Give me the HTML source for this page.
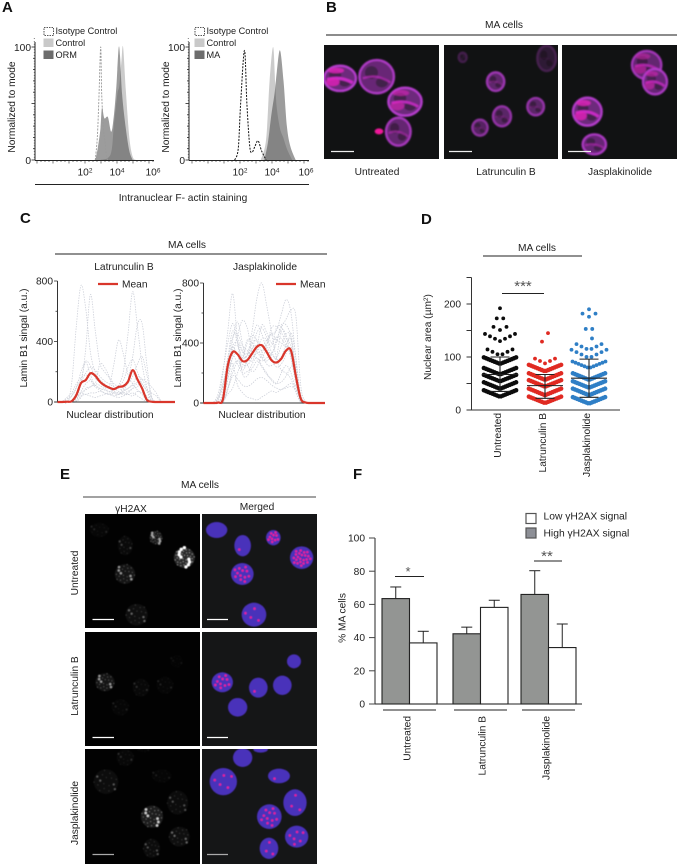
<!DOCTYPE html>
<html lang="en">
<head>
<meta charset="utf-8">
<title>Multi-panel figure: MA cells</title>
<style>
html,body{margin:0;padding:0;background:#fff;width:677px;height:864px;overflow:hidden}
svg{display:block}
text{font-family:"Liberation Sans",Arial,sans-serif;font-size:10.2px;fill:#222}
.pl{font-size:15px;font-weight:bold;fill:#111}
.m{text-anchor:middle}
.e{text-anchor:end}
.lg{font-size:9.2px}
.lf{font-size:10.3px}
</style>
</head>
<body>
<svg id="fig" xmlns="http://www.w3.org/2000/svg" width="677" height="864" viewBox="0 0 677 864">
<defs>
<filter id="soft" x="-5%" y="-5%" width="110%" height="110%"><feGaussianBlur stdDeviation="1.5"/></filter>
<filter id="soft2" x="-5%" y="-5%" width="110%" height="110%"><feGaussianBlur stdDeviation="2.6"/></filter>
</defs>

<text class="pl" x="2" y="12">A</text>
<text class="pl" x="326" y="12">B</text>
<text class="pl" x="20" y="223">C</text>
<text class="pl" x="421" y="224">D</text>
<text class="pl" x="60" y="479">E</text>
<text class="pl" x="353" y="479">F</text>

<!-- Panel A -->
<g id="panelA"></g>
<text transform="translate(15,107) rotate(-90)" class="m">Normalized to mode</text>
<text transform="translate(169,107) rotate(-90)" class="m">Normalized to mode</text>
<line x1="35" x2="309" y1="184.5" y2="184.5" stroke="#222" stroke-width="1"/>
<text x="183" y="201" class="m">Intranuclear F- actin staining</text>
<g>
<rect x="44" y="27.5" width="9.5" height="8" fill="#fff" stroke="#222" stroke-width=".8" stroke-dasharray="1.5 1"/>
<rect x="43.5" y="38.5" width="10" height="8.5" fill="#c9c9c9"/>
<rect x="43.5" y="50.5" width="10" height="8.5" fill="#6d6d6d"/>
<text class="lg" x="55.5" y="34">Isotype Control</text>
<text class="lg" x="55.5" y="46">Control</text>
<text class="lg" x="55.5" y="58">ORM</text>
</g>
<g>
<rect x="195" y="27.5" width="9.5" height="8" fill="#fff" stroke="#222" stroke-width=".8" stroke-dasharray="1.5 1"/>
<rect x="194.5" y="38.5" width="10" height="8.5" fill="#c9c9c9"/>
<rect x="194.5" y="50.5" width="10" height="8.5" fill="#6d6d6d"/>
<text class="lg" x="206.5" y="34">Isotype Control</text>
<text class="lg" x="206.5" y="46">Control</text>
<text class="lg" x="206.5" y="58">MA</text>
</g>

<!-- Panel B -->
<text x="504" y="28" class="m">MA cells</text>
<line x1="326" x2="677" y1="35" y2="35" stroke="#666" stroke-width="1.5"/>
<g id="panelB"></g>
<text x="377" y="175" class="m">Untreated</text>
<text x="506" y="175" class="m">Latrunculin B</text>
<text x="620" y="175" class="m">Jasplakinolide</text>

<!-- Panel C -->
<text x="187" y="248" class="m">MA cells</text>
<line x1="55" x2="327" y1="254" y2="254" stroke="#222" stroke-width="1"/>
<text x="124" y="270" class="m">Latrunculin B</text>
<text x="265" y="270" class="m">Jasplakinolide</text>
<text transform="translate(27,338) rotate(-90)" class="m">Lamin B1 singal (a.u.)</text>
<text transform="translate(181,338) rotate(-90)" class="m">Lamin B1 singal (a.u.)</text>
<text x="110" y="418" class="m">Nuclear distribution</text>
<text x="262" y="418" class="m">Nuclear distribution</text>
<g id="panelC"></g>
<g>
<line x1="98" x2="118" y1="284" y2="284" stroke="#d9362b" stroke-width="2.2"/>
<text x="122" y="287.5">Mean</text>
</g>
<g>
<line x1="276" x2="296" y1="284" y2="284" stroke="#d9362b" stroke-width="2.2"/>
<text x="300" y="287.5">Mean</text>
</g>

<!-- Panel D -->
<text x="537" y="251" class="m">MA cells</text>
<line x1="483" x2="582" y1="256" y2="256" stroke="#222" stroke-width="1"/>
<text transform="translate(431,337) rotate(-90)" class="m">Nuclear area (µm<tspan dy="-3" font-size="6.5">2</tspan><tspan dy="3">)</tspan></text>
<g id="panelD"></g>
<text x="523" y="291" class="m" style="font-size:15px;fill:#555">***</text>
<line x1="502" x2="544" y1="293.5" y2="293.5" stroke="#222" stroke-width="1"/>

<!-- Panel E -->
<text x="200" y="488" class="m">MA cells</text>
<line x1="83" x2="316" y1="497" y2="497" stroke="#444" stroke-width="1"/>
<text x="131" y="512" class="m">γH2AX</text>
<text x="257" y="510" class="m">Merged</text>
<g id="panelE"></g>
<text transform="translate(78,573) rotate(-90)" class="m">Untreated</text>
<text transform="translate(78,686) rotate(-90)" class="m">Latrunculin B</text>
<text transform="translate(78,813) rotate(-90)" class="m">Jasplakinolide</text>

<!-- Panel F -->
<g id="panelF"></g>
<text transform="translate(345.5,618) rotate(-90)" class="m">% MA cells</text>
<g>
<rect x="526" y="513.5" width="10" height="10" fill="#fff" stroke="#555" stroke-width="1.2"/>
<rect x="526" y="528" width="10" height="10" fill="#8d8f96" stroke="#555" stroke-width="1.2"/>
<text class="lf" x="543.5" y="519.5">Low γH2AX signal</text>
<text class="lf" x="543.5" y="536.5">High γH2AX signal</text>
</g>
<text x="408" y="576" class="m" style="font-size:13px;fill:#555">*</text>
<line x1="395" x2="424" y1="576.5" y2="576.5" stroke="#222" stroke-width="1"/>
<text x="547" y="561" class="m" style="font-size:15px;fill:#555">**</text>
<line x1="534" x2="562" y1="561" y2="561" stroke="#222" stroke-width="1"/>
</svg>

<script>
/* ---------- Panel A data (log10 intensity, % of mode) ---------- */
var aTicksLog = [2, 4, 6];
var aLeftIsoLog = [2.64, 2.77, 2.87, 2.98, 3.04, 3.15, 3.26, 3.34, 3.43];
var aLeftIsoVal = [0, 20, 55, 100, 60, 28, 15, 3, 0];
var aLeftCtrlLog = [2.96, 3.6, 3.81, 4.02, 4.15, 4.28, 4.38, 4.55, 4.77, 4.98, 5.19];
var aLeftCtrlVal = [0, 5, 32, 58, 66, 88, 100, 62, 20, 3, 0];
var aLeftOrmLog = [2.64, 2.79, 2.96, 3.06, 3.21, 3.43, 3.64, 3.81, 3.96, 4.02, 4.11, 4.19, 4.32, 4.55, 4.77, 4.98];
var aLeftOrmVal = [0, 10, 27, 46, 37, 38, 25, 40, 65, 80, 100, 92, 58, 28, 8, 0];
var aRightIsoLog = [1.67, 1.89, 2.04, 2.28, 2.43, 2.61, 2.76, 2.93, 3.13, 3.35, 3.63];
var aRightIsoVal = [0, 10, 50, 97, 50, 12, 7, 12, 17, 8, 0];
var aRightCtrlLog = [3.3, 3.63, 3.85, 4.07, 4.2, 4.3, 4.5, 4.7, 4.93, 5.26];
var aRightCtrlVal = [0, 18, 70, 100, 68, 46, 28, 20, 10, 0];
var aRightMaLog = [3.52, 3.74, 3.96, 4.17, 4.3, 4.5, 4.72, 4.93, 5.15, 5.48];
var aRightMaVal = [0, 15, 40, 60, 78, 97, 70, 30, 12, 0];

/* ---------- Panel C data (% position, a.u.) ---------- */
var cPositions = [0,4,8,12,16,20,24,28,32,36,40,44,48,52,56,60,64,68,72,76,80,84,88,92,96,100];
var cTicks = [0, 400, 800];
var cLatMean = [0,0,2,5,45,125,145,190,175,135,110,95,85,100,105,135,210,150,90,15,2,0,0,0,0,0];
var cJasMean = [0,0,0,3,25,250,340,325,280,285,330,375,385,340,285,270,295,350,350,180,30,3,0,0,0,0];
var cLatTrace1 = [0,0,0,120,500,770,620,330,200,150,120,90,70,60,50,60,90,120,90,30,5,0,0,0,0,0];
var cLatTrace2 = [0,0,0,0,30,120,350,710,480,260,200,160,100,70,60,50,60,40,20,5,0,0,0,0,0,0];
var cLatTrace3 = [0,0,0,0,10,60,80,100,110,90,80,70,80,110,200,450,730,500,250,100,10,0,0,0,0,0];
var cLatTrace4 = [0,0,0,0,0,40,50,60,60,70,60,50,40,50,70,150,300,510,520,250,40,0,0,0,0,0];
var cLatTrace5 = [0,0,0,0,5,30,90,100,120,110,90,100,250,410,320,180,120,80,50,10,0,0,0,0,0,0];
var cLatTrace6 = [0,0,20,40,100,150,260,180,120,250,230,170,120,110,140,230,280,200,120,80,60,40,5,0,0,0];
var cLatTrace7 = [0,5,30,60,120,160,180,150,110,90,80,70,60,50,60,70,90,100,150,130,100,60,10,0,0,0];
var cLatTrace8 = [0,0,0,0,30,60,50,40,30,40,50,60,40,30,40,50,40,70,60,40,10,0,0,0,0,0];
var cLatTrace9 = [0,0,0,40,90,200,270,240,160,130,100,90,60,50,90,120,170,250,300,180,30,0,0,0,0,0];
var cLatTrace10 = [0,0,0,10,60,130,190,230,210,170,140,120,100,90,80,90,110,130,120,70,10,0,0,0,0,0];
var cLatTrace11 = [0,0,0,0,20,70,120,140,100,80,60,50,60,60,70,90,120,170,150,90,30,0,0,0,0,0];
var cJasTrace1 = [0,0,0,20,200,480,730,420,200,180,260,300,250,200,150,130,200,250,200,90,10,0,0,0,0,0];
var cJasTrace2 = [0,0,0,0,30,180,320,450,550,500,340,300,280,300,320,290,310,390,420,200,20,0,0,0,0,0];
var cJasTrace3 = [0,0,0,0,10,100,200,280,300,320,480,700,800,650,470,300,220,200,160,70,5,0,0,0,0,0];
var cJasTrace4 = [0,0,0,0,20,150,300,330,260,250,300,330,350,400,460,480,590,690,600,300,40,0,0,0,0,0];
var cJasTrace5 = [0,0,0,0,0,90,240,280,240,280,360,380,300,280,320,420,500,560,620,580,120,10,0,0,0,0];
var cJasTrace6 = [0,0,0,40,130,230,260,120,70,40,30,20,40,60,80,70,90,100,110,90,30,5,0,0,0,0];
var cJasTrace7 = [0,0,5,60,220,400,530,430,350,300,280,350,430,420,340,300,380,460,440,220,30,0,0,0,0,0];
var cJasTrace8 = [0,0,0,20,120,300,370,320,220,280,400,410,340,260,250,300,480,450,300,130,10,0,0,0,0,0];
var cJasTrace9 = [0,0,0,0,50,220,380,400,340,330,360,470,500,440,380,500,510,430,380,200,20,0,0,0,0,0];
var cJasTrace10 = [0,0,0,0,60,250,320,260,200,210,230,280,240,190,160,130,140,180,240,250,60,0,0,0,0,0];
var cJasTrace11 = [0,0,0,0,30,170,420,540,400,260,210,240,330,380,300,240,260,330,470,300,40,0,0,0,0,0];
var cJasTrace12 = [0,0,0,0,20,90,180,160,120,110,130,160,170,150,120,100,90,110,130,110,20,0,0,0,0,0];
var cJasTrace13 = [0,0,0,0,40,200,360,380,300,400,450,420,380,420,460,420,400,370,330,180,20,0,0,0,0,0];
var cJasTrace14 = [0,0,0,30,110,280,440,460,380,350,300,380,520,470,400,440,430,380,350,250,50,0,0,0,0,0];
var cJasTrace15 = [0,0,0,0,80,300,480,400,300,320,420,520,460,360,330,400,520,520,440,230,30,0,0,0,0,0];
var cJasTrace16 = [0,0,0,0,10,60,100,200,300,420,400,350,300,380,500,510,470,400,300,150,15,0,0,0,0,0];

/* ---------- Panel D data (area, number of cells at each level) ---------- */
var dCategories = ["Untreated", "Latrunculin B", "Jasplakinolide"];
var dTicks = [0, 100, 200];
var dUntreatedLevels = [25, 40, 54, 67, 87, 103, 130, 151, 170, 192];
var dUntreatedCounts = [16, 16, 16, 16, 16, 6, 7, 3, 2, 1];
var dLatrunculinLevels = [13, 28, 44, 57, 73, 88, 129, 145];
var dLatrunculinCounts = [16, 16, 16, 16, 16, 5, 1, 1];
var dJasplakinolideLevels = [12, 28, 42, 57, 79, 98, 113, 135, 150, 176, 190];
var dJasplakinolideCounts = [16, 16, 16, 16, 12, 8, 6, 1, 2, 3, 1];
var dMeans = [67, 46, 60];
var dLower = [35, 22, 24];
var dUpper = [100, 67, 96];

/* ---------- Panel F data (% MA cells) ---------- */
var fCategories = ["Untreated", "Latrunculin B", "Jasplakinolide"];
var fTicks = [0, 20, 40, 60, 80, 100];
var fHigh = [63.5, 42.3, 66];
var fLow = [36.8, 58.2, 34];
var fHighErrTop = [70.5, 46.3, 80.3];
var fLowErrTop = [43.8, 62.5, 48.2];

var NS = "http://www.w3.org/2000/svg";
function mk(parent, tag, attrs, name, text) {
  var n = document.createElementNS(NS, tag);
  for (var k in attrs) n.setAttribute(k, attrs[k]);
  
  
  if (text !== undefined) n.textContent = text;
  parent.appendChild(n);
  return n;
}
function smooth(pts) {
  var d = "M" + pts[0][0] + " " + pts[0][1];
  for (var i = 0; i < pts.length - 1; i++) {
    var p0 = pts[Math.max(i - 1, 0)], p1 = pts[i], p2 = pts[i + 1], p3 = pts[Math.min(i + 2, pts.length - 1)];
    var c1x = p1[0] + (p2[0] - p0[0]) / 6, c1y = p1[1] + (p2[1] - p0[1]) / 6;
    var c2x = p2[0] - (p3[0] - p1[0]) / 6, c2y = p2[1] - (p3[1] - p1[1]) / 6;
    d += "C" + c1x.toFixed(2) + " " + c1y.toFixed(2) + " " + c2x.toFixed(2) + " " + c2y.toFixed(2) + " " + p2[0].toFixed(2) + " " + p2[1].toFixed(2);
  }
  return d;
}

/* ---------- Panel A ---------- */
(function () {
  var root = document.getElementById('panelA');
  function hist(cfg) {
    var g = mk(root, 'g', {}, cfg.name);
    var x = function (l) { return cfg.x2 + (l - 2) * 16; };
    var y = function (v) { return 160 - v * 1.13; };
    function pts(ls, vs) { return ls.map(function (l, i) { return [x(l), y(vs[i])]; }); }
    var c = smooth(pts(cfg.ctrlLog, cfg.ctrlVal));
    mk(g, 'path', { d: c + "Z", fill: '#cbcbcb' }, 'control-histogram');
    var t = smooth(pts(cfg.testLog, cfg.testVal));
    mk(g, 'path', { d: t + "Z", fill: '#4a4a4a', 'fill-opacity': .55 }, cfg.testName);
    mk(g, 'path', { d: smooth(pts(cfg.isoLog, cfg.isoVal)), fill: 'none', stroke: cfg.isoColor, 'stroke-width': cfg.isoW, 'stroke-dasharray': '2 1.3' }, 'isotype-histogram');
    mk(g, 'line', { x1: cfg.x0, x2: cfg.x0, y1: 42, y2: 160.5, stroke: '#222', 'stroke-width': 1 }, 'y-axis');
    mk(g, 'line', { x1: cfg.x0, x2: cfg.x1, y1: 160.5, y2: 160.5, stroke: '#222', 'stroke-width': 1 }, 'x-axis');
    for (var v = 0; v <= 100; v += 10) {
      mk(g, 'line', { x1: cfg.x0 - (v % 50 === 0 ? 3.5 : 2), x2: cfg.x0, y1: y(v), y2: y(v), stroke: '#222', 'stroke-width': .8 }, 'y-tick');
      for (var m = 2.5; m < 10; m += 2.5) mk(g, 'line', { x1: cfg.x0 - 1.2, x2: cfg.x0, y1: y(v + m), y2: y(v + m), stroke: '#222', 'stroke-width': .5 }, 'y-minor-tick');
    }
    mk(g, 'text', { x: cfg.x0 - 4, y: 51, class: 'e' }, 'y-tick-label', '100');
    mk(g, 'text', { x: cfg.x0 - 4, y: 164, class: 'e' }, 'y-tick-label', '0');
    for (var dec = -1; dec < 7; dec += 1) {
      for (var f = 0; f < 1; f += .25) {
        var xx = x(dec + f);
        if (xx < cfg.x0 || xx > cfg.x1) continue;
        mk(g, 'line', { x1: xx, x2: xx, y1: 160.5, y2: f === 0 ? 163.5 : 162, stroke: '#222', 'stroke-width': .6 }, 'x-tick');
      }
    }
    aTicksLog.forEach(function (l) {
      var tx = mk(g, 'text', { x: x(l) + (l === 6 ? cfg.lastLabelShift : 0), y: 175.5, class: 'm' }, 'x-tick-label', '10');
      var sup = document.createElementNS(NS, 'tspan');
      sup.setAttribute('dy', '-3');
      sup.setAttribute('font-size', '6.5');
      sup.textContent = String(l);
      tx.appendChild(sup);
    });
  }
  hist({ name: 'a-left-histogram', x0: 35, x1: 154, x2: 85, lastLabelShift: 4, isoLog: aLeftIsoLog, isoVal: aLeftIsoVal, isoColor: '#999', isoW: .9, ctrlLog: aLeftCtrlLog, ctrlVal: aLeftCtrlVal, testLog: aLeftOrmLog, testVal: aLeftOrmVal, testName: 'orm-histogram' });
  hist({ name: 'a-right-histogram', x0: 189, x1: 309, x2: 240, lastLabelShift: 2, isoLog: aRightIsoLog, isoVal: aRightIsoVal, isoColor: '#111', isoW: 1, ctrlLog: aRightCtrlLog, ctrlVal: aRightCtrlVal, testLog: aRightMaLog, testVal: aRightMaVal, testName: 'ma-histogram' });
})();

/* ---------- Panel C ---------- */
(function () {
  var root = document.getElementById('panelC');
  function chart(cfg) {
    var g = mk(root, 'g', {}, cfg.name);
    var x = function (p) { return cfg.x0 + p * (cfg.x1 - cfg.x0) / 100; };
    var y = function (v) { return cfg.y0 - v * (cfg.y0 - cfg.yTop) / 800; };
    function line(vals) { return smooth(vals.map(function (v, i) { return [x(cPositions[i]), y(v)]; })); }
    cfg.traces.forEach(function (t) {
      mk(g, 'path', { d: line(t), fill: 'none', stroke: '#cdd0d9', 'stroke-width': .8, 'stroke-dasharray': '1.4 1.2' }, 'cell-trace');
    });
    mk(g, 'line', { x1: cfg.x0, x2: cfg.x0, y1: cfg.yTop, y2: cfg.y0, stroke: '#333', 'stroke-width': 1 }, 'y-axis');
    mk(g, 'line', { x1: cfg.x0 - 3, x2: cfg.x1, y1: cfg.y0, y2: cfg.y0, stroke: '#333', 'stroke-width': 1 }, 'x-axis');
    for (var v = 0; v <= 800; v += 200) mk(g, 'line', { x1: cfg.x0 - (v % 400 === 0 ? 3.5 : 2), x2: cfg.x0, y1: y(v), y2: y(v), stroke: '#333', 'stroke-width': .8 }, 'y-tick');
    cTicks.forEach(function (t) {
      mk(g, 'text', { x: cfg.x0 - 4.5, y: y(t) + 3.5, class: 'e' }, 'y-tick-label', String(t));
    });
    mk(g, 'path', { d: line(cfg.mean), fill: 'none', stroke: '#d9362b', 'stroke-width': 2.2, 'stroke-linejoin': 'round' }, 'mean-line');
  }
  chart({ name: 'c-left-chart', x0: 57.5, x1: 175, y0: 402, yTop: 281, mean: cLatMean, traces: [cLatTrace1, cLatTrace2, cLatTrace3, cLatTrace4, cLatTrace5, cLatTrace6, cLatTrace7, cLatTrace8, cLatTrace9, cLatTrace10, cLatTrace11] });
  chart({ name: 'c-right-chart', x0: 203.5, x1: 325, y0: 403, yTop: 283, mean: cJasMean, traces: [cJasTrace1, cJasTrace2, cJasTrace3, cJasTrace4, cJasTrace5, cJasTrace6, cJasTrace7, cJasTrace8, cJasTrace9, cJasTrace10, cJasTrace11, cJasTrace12, cJasTrace13, cJasTrace14, cJasTrace15, cJasTrace16] });
})();

/* ---------- Panel D ---------- */
(function () {
  var root = document.getElementById('panelD');
  var yD = function (v) { return 410 - v * 0.53; };
  var centers = [500, 545, 589];
  var axisX = 471.5;
  var groups = [
    { l: dUntreatedLevels, c: dUntreatedCounts, col: '#0c0c0c', side: [0] },
    { l: dLatrunculinLevels, c: dLatrunculinCounts, col: '#e02a22', side: [-3, 3] },
    { l: dJasplakinolideLevels, c: dJasplakinolideCounts, col: '#2f7fc6', side: [3, 0] }
  ];
  groups.forEach(function (gr, gi) {
    var g = mk(root, 'g', {}, 'scatter-' + dCategories[gi].toLowerCase().replace(/ /g, '-'));
    var singles = 0;
    gr.l.forEach(function (lev, li) {
      var n = gr.c[li];
      var sp = n >= 10 ? (n >= 14 ? 2.15 : 3) : (n <= 3 ? 6.5 : 5);
      var k = n >= 10 ? 0.76 : 0.9;
      for (var i = 0; i < n; i++) {
        var off = (i - (n - 1) / 2) * sp;
        var val = lev + Math.abs(off) * k;
        var shift = 0;
        if (n === 1) { shift = gr.side[singles] || 0; singles++; }
        mk(g, 'circle', { cx: centers[gi] + off + shift, cy: yD(val), r: n >= 14 ? 2.25 : 1.9, fill: gr.col }, 'cell-point');
      }
    });
    mk(g, 'line', { x1: centers[gi] - 18, x2: centers[gi] + 18, y1: yD(dMeans[gi]), y2: yD(dMeans[gi]), stroke: '#222', 'stroke-width': 1.1 }, 'mean-bar');
    mk(g, 'line', { x1: centers[gi], x2: centers[gi], y1: yD(dLower[gi]), y2: yD(dUpper[gi]), stroke: '#222', 'stroke-width': 1.1 }, 'error-bar');
    mk(g, 'line', { x1: centers[gi] - 9.5, x2: centers[gi] + 9.5, y1: yD(dLower[gi]), y2: yD(dLower[gi]), stroke: '#222', 'stroke-width': 1.1 }, 'error-cap-lower');
    mk(g, 'line', { x1: centers[gi] - 9.5, x2: centers[gi] + 9.5, y1: yD(dUpper[gi]), y2: yD(dUpper[gi]), stroke: '#222', 'stroke-width': 1.1 }, 'error-cap-upper');
    mk(g, 'text', { transform: 'translate(' + (centers[gi] + 1) + ',413) rotate(-90)', class: 'e' }, 'x-tick-label', dCategories[gi]);
  });
  mk(root, 'line', { x1: axisX, x2: axisX, y1: yD(250), y2: yD(0), stroke: '#333', 'stroke-width': 1 }, 'y-axis');
  mk(root, 'line', { x1: axisX - 5, x2: 620, y1: yD(0), y2: yD(0), stroke: '#333', 'stroke-width': 1 }, 'x-axis');
  for (var v = 50; v <= 250; v += 50) mk(root, 'line', { x1: axisX - 5, x2: axisX, y1: yD(v), y2: yD(v), stroke: '#333', 'stroke-width': 1 }, 'y-tick');
  dTicks.forEach(function (t) {
    mk(root, 'text', { x: 461, y: yD(t) + 3.5, class: 'e' }, 'y-tick-label', String(t));
  });
})();

/* ---------- Panel F ---------- */
(function () {
  var root = document.getElementById('panelF');
  var yF = function (v) { return 704 - v * 1.66; };
  var starts = [382, 453, 521];
  var bw = 27.5;
  fCategories.forEach(function (cat, i) {
    var g = mk(root, 'g', {}, 'bar-group-' + cat.toLowerCase().replace(/ /g, '-'));
    [[fHigh[i], fHighErrTop[i], '#939593', 0, 'high'], [fLow[i], fLowErrTop[i], '#fff', 1, 'low']].forEach(function (b) {
      var bx = starts[i] + b[3] * bw;
      mk(g, 'line', { x1: bx + bw / 2, x2: bx + bw / 2, y1: yF(b[0]), y2: yF(b[1]), stroke: '#222', 'stroke-width': 1 }, 'error-bar-' + b[4]);
      mk(g, 'line', { x1: bx + bw / 2 - 5.5, x2: bx + bw / 2 + 5.5, y1: yF(b[1]), y2: yF(b[1]), stroke: '#222', 'stroke-width': 1 }, 'error-cap-' + b[4]);
      mk(g, 'rect', { x: bx, y: yF(b[0]), width: bw, height: yF(0) - yF(b[0]), fill: b[2], stroke: '#222', 'stroke-width': 1.1 }, 'bar-' + b[4]);
    });
    mk(g, 'line', { x1: starts[i] + 1, x2: starts[i] + 2 * bw - 1, y1: 710, y2: 710, stroke: '#222', 'stroke-width': 1 }, 'group-rule');
    var lx = [407, 482, 546][i];
    mk(g, 'text', { transform: 'translate(' + (lx + 3.5) + ',716) rotate(-90)', class: 'e' }, 'x-tick-label', cat);
  });
  mk(root, 'line', { x1: 375, x2: 375, y1: yF(100), y2: yF(0), stroke: '#777', 'stroke-width': 1.6 }, 'y-axis');
  mk(root, 'line', { x1: 369, x2: 582, y1: yF(0), y2: yF(0), stroke: '#222', 'stroke-width': 1 }, 'x-axis');
  fTicks.forEach(function (t) {
    mk(root, 'line', { x1: 369, x2: 375, y1: yF(t), y2: yF(t), stroke: '#444', 'stroke-width': 1 }, 'y-tick');
    mk(root, 'text', { x: 365, y: yF(t) + 3.6, class: 'e' }, 'y-tick-label', String(t));
  });
})();

/* ---------- Micrographs ---------- */
function panelFrame(parent, id, x, y, w, h, name) {
  var defs = document.querySelector('#fig defs');
  var cp = document.createElementNS(NS, 'clipPath');
  cp.setAttribute('id', id);
  var r = document.createElementNS(NS, 'rect');
  r.setAttribute('x', x); r.setAttribute('y', y); r.setAttribute('width', w); r.setAttribute('height', h);
  cp.appendChild(r);
  defs.appendChild(cp);
  var g = mk(parent, 'g', { 'clip-path': 'url(#' + id + ')' }, name);
  mk(g, 'rect', { x: x, y: y, width: w, height: h, fill: '#111213' }, name + '-background');
  return g;
}

/* Panel B: phalloidin-like magenta rings (page = zoom/3 + offset) */
(function () {
  var root = document.getElementById('panelB');
  var panels = [
    { id: 'b1', x: 324, w: 115, name: 'micrograph-untreated', bar: 331,
      cells: [[60,235,48,38,1,1],[170,230,52,50,.95,.5],[255,305,50,42,1,.7],[235,395,37,42,.9,.4]] , dot: [177,394,13,9] },
    { id: 'b2', x: 444, w: 114, name: 'micrograph-latrunculin', bar: 449,
      cells: [[428,172,12,14,.3,0],[680,175,28,38,.32,.1],[527,245,26,28,.85,.2],[546,349,27,30,.8,.1],[480,383,23,24,.75,.1],[647,320,25,26,.8,.1]] },
    { id: 'b3', x: 562, w: 115, name: 'micrograph-jasplakinolide', bar: 568,
      cells: [[980,195,44,42,.9,.7],[1005,245,36,38,.95,.7],[802,335,43,42,1,1],[823,433,35,30,.95,.4]] }
  ];
  panels.forEach(function (p) {
    var g = panelFrame(root, p.id, p.x, 45, p.w, 114, p.name);
    var s = mk(g, 'g', { transform: 'translate(320,0) scale(.3333)', filter: 'url(#soft2)' }, p.name + '-cells');
    p.cells.forEach(function (c) {
      var cell = mk(s, 'g', { opacity: c[4] }, 'nucleus');
      mk(cell, 'ellipse', { cx: c[0], cy: c[1], rx: c[2], ry: c[3], fill: '#6d2a7c', stroke: '#b63ccd', 'stroke-width': 7 }, 'nucleus-ring');
      mk(cell, 'ellipse', { cx: c[0] - c[2] * .3, cy: c[1] - c[3] * .25, rx: c[2] * .38, ry: c[3] * .38, fill: '#45214e' }, 'nucleus-void');
      mk(cell, 'ellipse', { cx: c[0] + c[2] * .3, cy: c[1] + c[3] * .35, rx: c[2] * .35, ry: c[3] * .3, fill: '#45214e' }, 'nucleus-void');
      if (c[5] > 0) {
        mk(cell, 'path', { d: 'M' + (c[0] - c[2] * .8) + ' ' + (c[1] + c[3] * .1) + 'Q' + c[0] + ' ' + (c[1] - c[3] * .2) + ' ' + (c[0] + c[2] * .8) + ' ' + (c[1] + c[3] * .35), fill: 'none', stroke: '#c92cc6', 'stroke-width': 4 + 5 * c[5], 'stroke-opacity': Math.min(1, c[5] + .2) }, 'nucleus-fold');
      }
      if (c[5] >= .7) {
        mk(cell, 'ellipse', { cx: c[0] - c[2] * .45, cy: c[1] + c[3] * .3, rx: c[2] * .42, ry: c[3] * .32, fill: '#e023b8', 'fill-opacity': c[5] * .8 }, 'nucleus-bright');
        mk(cell, 'ellipse', { cx: c[0] - c[2] * .25, cy: c[1] - c[3] * .62, rx: c[2] * .5, ry: c[3] * .22, fill: '#e325bd', 'fill-opacity': c[5] * .8 }, 'nucleus-bright');
      }
    });
    if (p.dot) mk(s, 'ellipse', { cx: p.dot[0], cy: p.dot[1], rx: p.dot[2], ry: p.dot[3], fill: '#f0139a' }, 'debris');
    mk(g, 'line', { x1: p.bar, x2: p.bar + 23, y1: 151.5, y2: 151.5, stroke: '#eee', 'stroke-width': 1.2 }, 'scale-bar');
  });
})();

/* Panel E: gamma-H2AX and merged (page = zoom/3 + (0,460)) */
(function () {
  var root = document.getElementById('panelE');
  var rows = [
    { y: 514, h: 114, name: 'untreated',
      cells: [[650,210,32,24,.1,0],[728,257,25,32,.18,1],[820,233,22,23,.45,10],[905,293,35,34,.85,22],[727,342,34,33,.42,12],[762,464,37,36,.28,4]] },
    { y: 632, h: 114, name: 'latrunculin',
      cells: [[667,667,32,30,.42,10],[775,683,28,30,.12,1],[847,676,28,29,.09,0],[882,604,21,21,.05,0],[713,742,29,28,.09,0]] },
    { y: 749, h: 115, name: 'jasplakinolide',
      cells: [[728,893,29,28,.12,0],[782,868,22,10,.05,0],[670,965,41,41,.24,5],[837,948,33,22,.08,1],[885,1028,35,40,.22,3],[808,1070,37,37,.58,11],[890,1130,35,33,.28,6],[807,1165,28,32,.22,3]] }
  ];
  rows.forEach(function (row, ri) {
    var g1 = panelFrame(root, 'e-g' + ri, 85, row.y, 115, row.h, 'gamma-h2ax-' + row.name);
    g1.firstChild.setAttribute('fill', '#020202');
    var s1 = mk(g1, 'g', { transform: 'translate(0,460) scale(.3333)', filter: 'url(#soft)' }, 'gamma-h2ax-cells');
    row.cells.forEach(function (c) {
      var cx = c[0] - 352, cy = c[1];
      mk(s1, 'ellipse', { cx: cx, cy: cy, rx: c[2] * .9, ry: c[3] * .9, fill: '#fff', 'fill-opacity': c[4] * .18 }, 'gamma-h2ax-nucleus');
      var n = Math.round(10 + c[4] * 30);
      for (var i = 1; i <= n; i++) {
        var a = i * 2.39996, rr = Math.sqrt(i / n) * .88;
        var big = i % 4 === 0;
        mk(s1, 'circle', { cx: cx + Math.cos(a) * rr * c[2], cy: cy + Math.sin(a) * rr * c[3], r: big ? 3 + c[4] * 2.5 : 2, fill: '#fff', 'fill-opacity': Math.min(1, c[4] * (big ? 1.3 : .6)) }, 'gamma-h2ax-focus');
      }
    });
    mk(g1, 'line', { x1: 92.5, x2: 114, y1: row.y + 105.5, y2: row.y + 105.5, stroke: ri === 2 ? '#aaa' : '#fff', 'stroke-width': 1.2 }, 'scale-bar');

    var g2 = panelFrame(root, 'e-m' + ri, 202, row.y, 115, row.h, 'merged-' + row.name);
    g2.firstChild.setAttribute('fill', '#151617');
    var s2 = mk(g2, 'g', { transform: 'translate(0,460) scale(.3333)', filter: 'url(#soft)' }, 'merged-cells');
    row.cells.forEach(function (c) {
      mk(s2, 'ellipse', { cx: c[0], cy: c[1], rx: c[2], ry: c[3], fill: '#4a30ba' }, 'merged-nucleus');
      for (var i = 1; i <= c[5]; i++) {
        var a = i * 2.39996, rr = Math.sqrt(i / (c[5] + 1)) * .78;
        mk(s2, 'circle', { cx: c[0] + Math.cos(a) * rr * c[2], cy: c[1] + Math.sin(a) * rr * c[3], r: 3.6, fill: '#f01f98' }, 'merged-focus');
      }
    });
    mk(g2, 'line', { x1: 207, x2: 228, y1: row.y + 105.5, y2: row.y + 105.5, stroke: ri === 2 ? '#aaa' : '#fff', 'stroke-width': 1.2 }, 'scale-bar');
  });
})();
</script>
</body>
</html>
